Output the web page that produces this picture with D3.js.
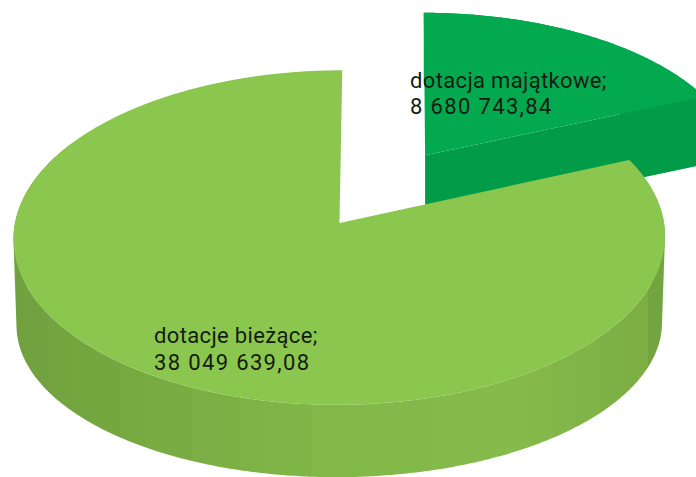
<!DOCTYPE html>
<html>
<head>
<meta charset="utf-8">
<script src="https://cdn.jsdelivr.net/npm/d3@7"></script>
<style>
html,body{margin:0;padding:0;background:#fff;overflow:hidden}
svg{display:block}
text{font-family:Roboto,sans-serif;font-size:22px;fill:#141c12;letter-spacing:0.35px}
tspan.num{letter-spacing:1.35px}
</style>
</head>
<body>
<svg id="chart" width="696" height="477"></svg>
<script>
const categories = ["dotacja majątkowe", "dotacje bieżące"];
const values = [8680743.84, 38049639.08];
const topColors = ["#03a94e", "#8bc74e"];
const wallColors = ["#029c49", "#85bb4a"];
const wallDarkColors = ["#029c49", "#70a13e"];

const locale = d3.formatLocale({decimal: ",", thousands: " ", grouping: [3], currency: ["", ""]});
const fmt = locale.format(",.2f");

const svg = d3.select("#chart");
const pie = d3.pie().value(d => d).sort(null);
const arcs = pie(values);

// Perspective projection of the unit disc on the page
const k = -0.087;
const topPlanes = [
  {cx: 339, cy: 223, bx: 325.5, by: 166, shear: -6},
  {cx: 339.5, cy: 223, bx: 324.5, by: 166, shear: -3}
];
const wallPlanes = [
  {cx: 339, cy: 291, bx: 325.5, by: 166, shear: -6},
  {cx: 339.5, cy: 310.7, bx: 321.5, by: 152, shear: -3}
];
const xScale = p => d3.scaleLinear().domain([-1, 1]).range([p.cx - p.bx, p.cx + p.bx]);
const yScale = p => d3.scaleLinear().domain([-1, 1]).range([p.cy - p.by, p.cy + p.by]);
function project(plane, X, Y) {
  const w = 1 + k * Y;
  return [xScale(plane)((X + plane.shear / plane.bx * Y) / w), yScale(plane)(Y / w)];
}
const explode = [0.5, 0];
const direction = 32.2 * Math.PI / 180;
function disc(i, a, r) {
  return [Math.sin(a) * r + explode[i] * Math.sin(direction),
          -Math.cos(a) * r - explode[i] * Math.cos(direction)];
}
const line = d3.line();
const stepA = Math.PI / 360;
const wallEnd = Math.PI * 5 / 3;

// stepped horizontal shading of the round wall
const defs = svg.append("defs");
const grad = defs.append("linearGradient").attr("id", "wallShade")
  .attr("gradientUnits", "userSpaceOnUse")
  .attr("x1", 0).attr("x2", 696).attr("y1", 0).attr("y2", 0);
const shadeX = d3.scaleLinear().domain([15, 120, 330, 520, 640, 665])
  .range([wallDarkColors[1], "#76a841", "#82b848", wallColors[1], "#7cae44", wallDarkColors[1]])
  .clamp(true);
const bandEdges = d3.range(0, 696, 24);
bandEdges.forEach((x, j) => {
  const next = j < bandEdges.length - 1 ? bandEdges[j + 1] : 696;
  const col = shadeX(x + 12);
  grad.append("stop").attr("offset", x / 696).attr("stop-color", col);
  grad.append("stop").attr("offset", next / 696).attr("stop-color", col);
});

[0, 1].forEach(i => {
  const d = arcs[i];
  const g = svg.append("g").attr("class", "slice");
  const topPlane = topPlanes[i];
  const wallPlane = wallPlanes[i];
  const fill = i === 1 ? "url(#wallShade)" : wallColors[i];
  const last = Math.min(d.endAngle, wallEnd);
  const pts = d3.range(d.startAngle, last, stepA).concat([last]);
  // every small wall quad goes into one path with one winding, so no seams or holes appear
  const wall = d3.pairs(pts).map(([a0, a1]) => {
    const q = [
      project(topPlane, ...disc(i, a0, 1)), project(topPlane, ...disc(i, a1, 1)),
      project(wallPlane, ...disc(i, a1, 1)), project(wallPlane, ...disc(i, a0, 1))
    ];
    if (d3.polygonArea(q) < 0) q.reverse();
    return line(q) + "Z";
  }).join("");
  g.append("path").attr("d", wall).attr("fill", fill);
  // radial wall on the cut side of the small slice
  if (i === 0) {
    const c = disc(i, 0, 0), e = disc(i, d.endAngle, 1);
    const q = [project(topPlane, ...c), project(topPlane, ...e),
               project(wallPlane, ...e), project(wallPlane, ...c)];
    g.append("path").attr("d", line(q) + "Z").attr("fill", wallColors[i]);
  }
  // top face
  const rim = d3.range(d.startAngle, d.endAngle, stepA).concat([d.endAngle]);
  const face = [project(topPlane, ...disc(i, 0, 0))]
    .concat(rim.map(a => project(topPlane, ...disc(i, a, 1))));
  g.append("path").attr("d", line(face) + "Z").attr("fill", topColors[i]);
});

const labelPos = [[410, 88, 114], [154, 343, 370]];
categories.forEach((c, i) => {
  const [x, y1, y2] = labelPos[i];
  const label = svg.append("text").attr("x", x).attr("y", y1);
  label.append("tspan").attr("x", x).attr("y", y1).text(c + ";");
  label.append("tspan").attr("class", "num").attr("x", x).attr("y", y2).text(fmt(values[i]));
});
</script>
</body>
</html>
